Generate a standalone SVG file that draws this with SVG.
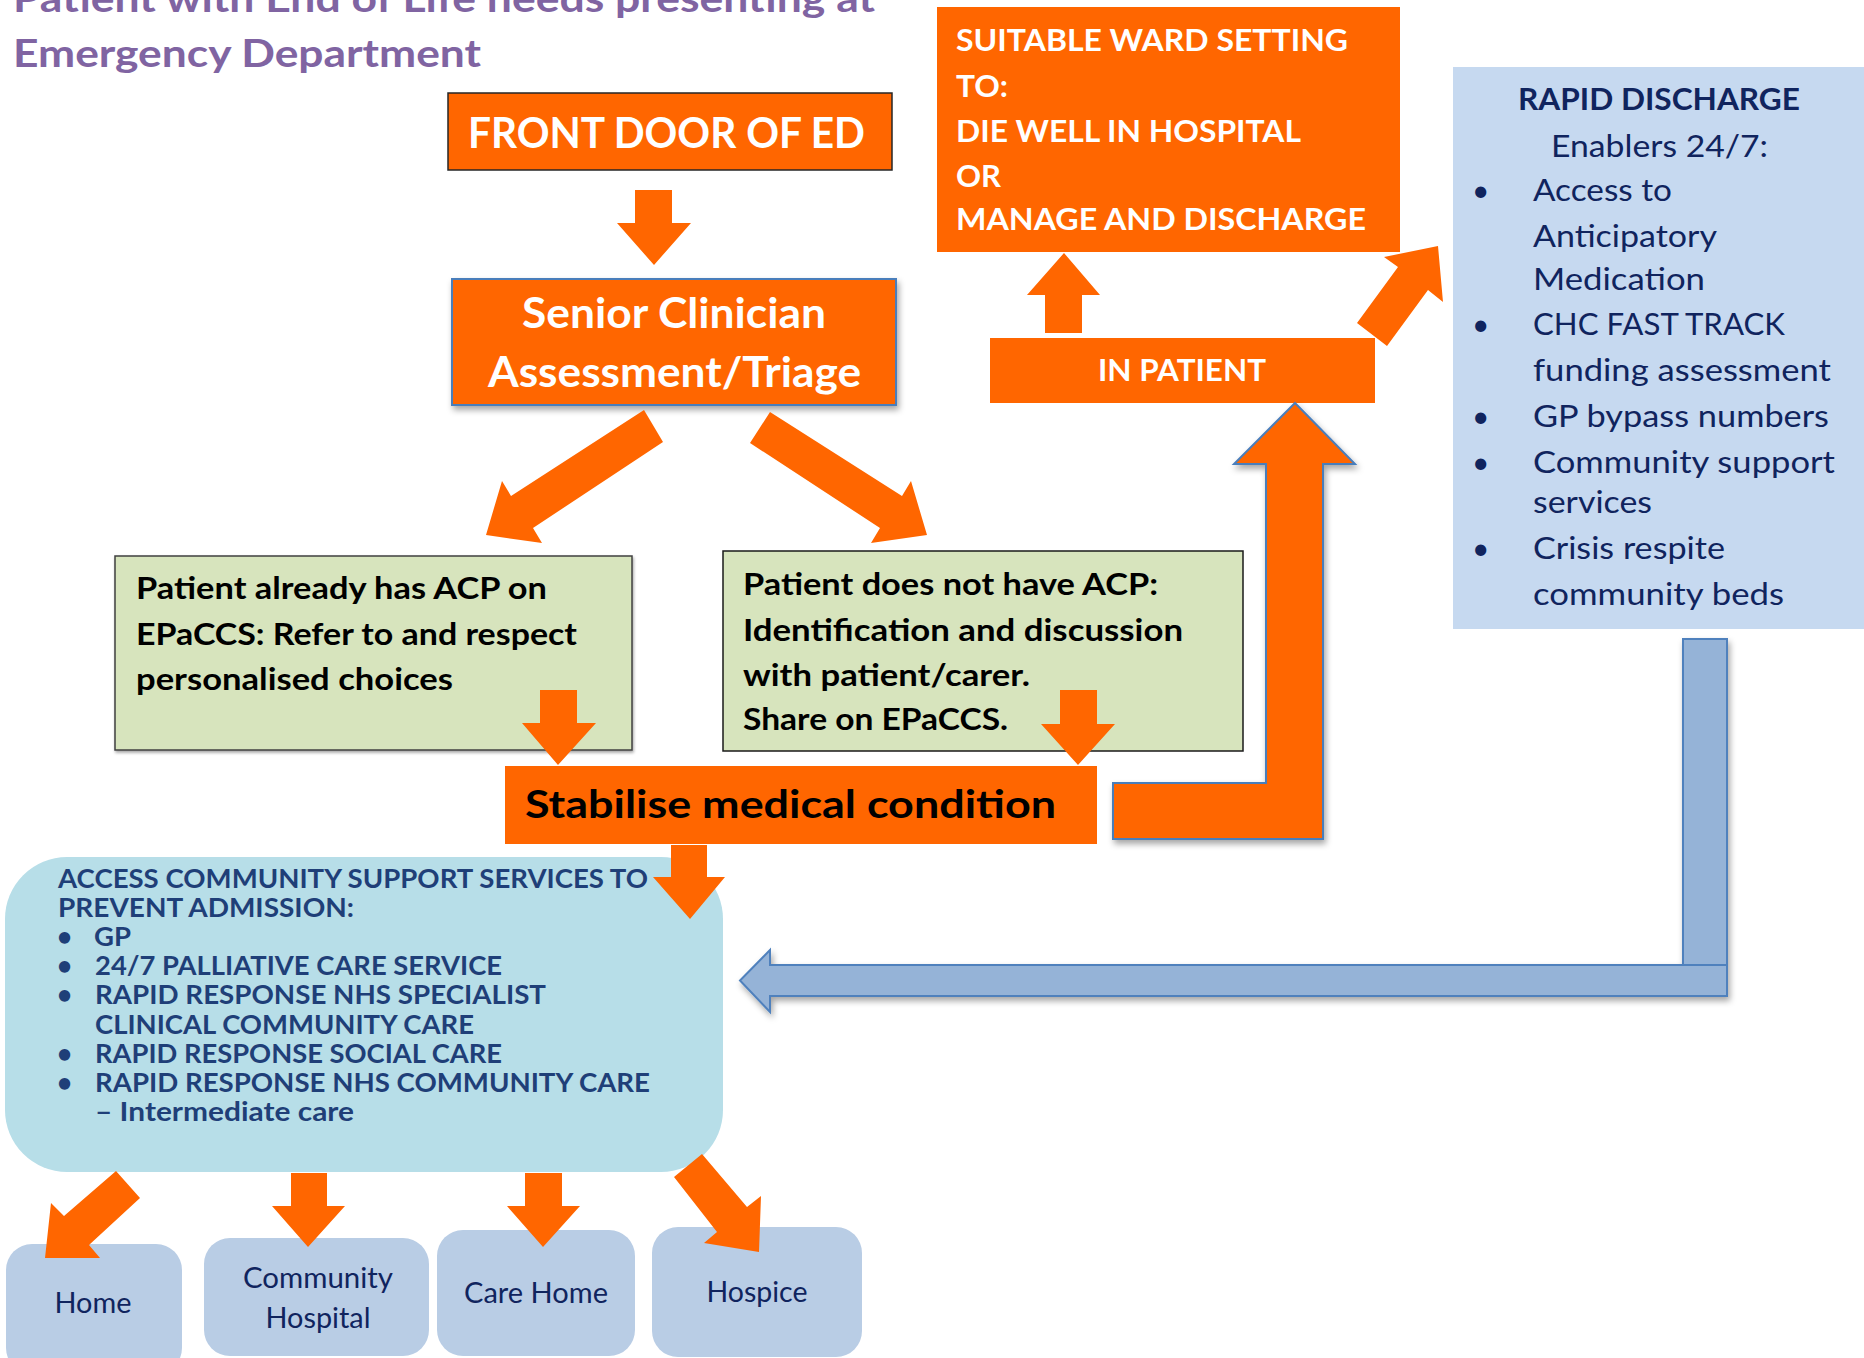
<svg xmlns="http://www.w3.org/2000/svg" width="1864" height="1358" viewBox="0 0 1864 1358">
  <defs>
    <filter id="shadow" x="-10%" y="-10%" width="130%" height="140%">
      <feDropShadow dx="2" dy="4" stdDeviation="3" flood-color="#000" flood-opacity="0.35"/>
    </filter>
    <filter id="softshadow" x="-5%" y="-5%" width="115%" height="120%">
      <feDropShadow dx="1" dy="2" stdDeviation="1.5" flood-color="#000" flood-opacity="0.35"/>
    </filter>
    <style>
      text { font-family: Lato, "Open Sans", "Liberation Sans", sans-serif; }
      .orange { fill: #FF6600; }
      .wb { fill: #FFFFFF; font-weight: bold; }
      .kb { fill: #000000; font-weight: bold; }
      .title { fill: #8064A2; font-weight: bold; font-size: 38px; }
      .green { fill: #D7E4BD; }
      .navy { fill: #10245E; }
      .comm { fill: #1F3F78; font-weight: bold; font-size: 26px; }
      .dest { fill: #B9CDE5; }
      .destt { fill: #10245E; font-size: 28px; text-anchor: middle; }
      .rd { fill: #10245E; font-size: 30px; }
      .blueArrow { fill: #95B3D7; stroke: #4F81BD; stroke-width: 2; }
    </style>
  </defs>

  <rect width="1864" height="1358" fill="#FFFFFF"/>

  <!-- heading -->
  <g id="title">
    <text class="title" x="13" y="12" textLength="862" lengthAdjust="spacingAndGlyphs">Patient with End of Life needs presenting at</text>
    <text class="title" x="13" y="67" textLength="468" lengthAdjust="spacingAndGlyphs">Emergency Department</text>
  </g>

  <g id="front-door">
    <rect x="448" y="93" width="444" height="77" class="orange" stroke="#262626" stroke-width="1.5"/>
    <text class="wb" x="468" y="148" font-size="42" textLength="397" lengthAdjust="spacingAndGlyphs">FRONT DOOR OF ED</text>
  </g>

  <g id="senior-clinician">
    <rect x="452" y="279" width="444" height="126" class="orange" stroke="#4A7EBB" stroke-width="2" filter="url(#shadow)"/>
    <text class="wb" x="522" y="328" font-size="42" textLength="304" lengthAdjust="spacingAndGlyphs">Senior Clinician</text>
    <text class="wb" x="488" y="387" font-size="42" textLength="373" lengthAdjust="spacingAndGlyphs">Assessment/Triage</text>
  </g>

  <g id="ward-setting">
    <rect x="937" y="7" width="463" height="245" class="orange"/>
    <text class="wb" x="956" y="51" font-size="31" textLength="392" lengthAdjust="spacingAndGlyphs">SUITABLE WARD SETTING</text>
    <text class="wb" x="956" y="97" font-size="31" textLength="52" lengthAdjust="spacingAndGlyphs">TO:</text>
    <text class="wb" x="956" y="142" font-size="31" textLength="345" lengthAdjust="spacingAndGlyphs">DIE WELL IN HOSPITAL</text>
    <text class="wb" x="956" y="187" font-size="31" textLength="45" lengthAdjust="spacingAndGlyphs">OR</text>
    <text class="wb" x="956" y="230" font-size="31" textLength="410" lengthAdjust="spacingAndGlyphs">MANAGE AND DISCHARGE</text>
  </g>

  <g id="in-patient">
    <rect x="990" y="338" width="385" height="65" class="orange"/>
    <text class="wb" x="1098" y="381" font-size="30" textLength="168" lengthAdjust="spacingAndGlyphs">IN PATIENT</text>
  </g>

  <g id="rapid-discharge">
    <rect x="1453" y="67" width="411" height="562" fill="#C6D9F0"/>
    <text class="navy" x="1518" y="110" font-size="31" font-weight="bold" textLength="282" lengthAdjust="spacingAndGlyphs">RAPID DISCHARGE</text>
    <text class="rd" x="1551" y="157" textLength="217" lengthAdjust="spacingAndGlyphs">Enablers 24/7:</text>
    <g class="rd">
      <text x="1472" y="201">•</text>
      <text x="1472" y="335">•</text>
      <text x="1472" y="427">•</text>
      <text x="1472" y="473">•</text>
      <text x="1472" y="559">•</text>
    </g>
    <text class="rd" x="1533" y="201" textLength="139" lengthAdjust="spacingAndGlyphs">Access to</text>
    <text class="rd" x="1533" y="247" textLength="184" lengthAdjust="spacingAndGlyphs">Anticipatory</text>
    <text class="rd" x="1533" y="290" textLength="172" lengthAdjust="spacingAndGlyphs">Medication</text>
    <text class="rd" x="1533" y="335" textLength="252" lengthAdjust="spacingAndGlyphs">CHC FAST TRACK</text>
    <text class="rd" x="1533" y="381" textLength="298" lengthAdjust="spacingAndGlyphs">funding assessment</text>
    <text class="rd" x="1533" y="427" textLength="296" lengthAdjust="spacingAndGlyphs">GP bypass numbers</text>
    <text class="rd" x="1533" y="473" textLength="302" lengthAdjust="spacingAndGlyphs">Community support</text>
    <text class="rd" x="1533" y="513" textLength="119" lengthAdjust="spacingAndGlyphs">services</text>
    <text class="rd" x="1533" y="559" textLength="192" lengthAdjust="spacingAndGlyphs">Crisis respite</text>
    <text class="rd" x="1533" y="605" textLength="251" lengthAdjust="spacingAndGlyphs">community beds</text>
  </g>

  <g id="has-acp">
    <rect x="115" y="556" width="517" height="194" class="green" stroke="#404040" stroke-width="1.5" filter="url(#softshadow)"/>
    <text class="kb" x="136" y="599" font-size="31" textLength="411" lengthAdjust="spacingAndGlyphs">Patient already has ACP on</text>
    <text class="kb" x="136" y="645" font-size="31" textLength="441" lengthAdjust="spacingAndGlyphs">EPaCCS: Refer to and respect</text>
    <text class="kb" x="136" y="690" font-size="31" textLength="317" lengthAdjust="spacingAndGlyphs">personalised choices</text>
  </g>

  <g id="no-acp">
    <rect x="723" y="551" width="520" height="200" class="green" stroke="#1A1A1A" stroke-width="1.5"/>
    <text class="kb" x="743" y="595" font-size="31" textLength="415" lengthAdjust="spacingAndGlyphs">Patient does not have ACP:</text>
    <text class="kb" x="743" y="641" font-size="31" textLength="440" lengthAdjust="spacingAndGlyphs">Identification and discussion</text>
    <text class="kb" x="743" y="686" font-size="31" textLength="287" lengthAdjust="spacingAndGlyphs">with patient/carer.</text>
    <text class="kb" x="743" y="730" font-size="31" textLength="265" lengthAdjust="spacingAndGlyphs">Share on EPaCCS.</text>
  </g>

  <g id="stabilise">
    <rect x="505" y="766" width="592" height="78" class="orange"/>
    <text class="kb" x="525" y="818" font-size="39" textLength="531" lengthAdjust="spacingAndGlyphs">Stabilise medical condition</text>
  </g>

  <g id="community-support">
    <rect x="5" y="857" width="718" height="315" rx="62" ry="62" fill="#B7DEE8"/>
    <text class="comm" x="58" y="888" textLength="590" lengthAdjust="spacingAndGlyphs">ACCESS COMMUNITY SUPPORT SERVICES TO</text>
    <text class="comm" x="58" y="917" textLength="296" lengthAdjust="spacingAndGlyphs">PREVENT ADMISSION:</text>
    <g class="comm">
      <text x="57" y="946">•</text>
      <text x="57" y="975">•</text>
      <text x="57" y="1004">•</text>
      <text x="57" y="1063">•</text>
      <text x="57" y="1092">•</text>
    </g>
    <text class="comm" x="94" y="946" textLength="37" lengthAdjust="spacingAndGlyphs">GP</text>
    <text class="comm" x="95" y="975" textLength="407" lengthAdjust="spacingAndGlyphs">24/7 PALLIATIVE CARE SERVICE</text>
    <text class="comm" x="95" y="1004" textLength="451" lengthAdjust="spacingAndGlyphs">RAPID RESPONSE NHS  SPECIALIST</text>
    <text class="comm" x="95" y="1034" textLength="379" lengthAdjust="spacingAndGlyphs">CLINICAL COMMUNITY CARE</text>
    <text class="comm" x="95" y="1063" textLength="407" lengthAdjust="spacingAndGlyphs">RAPID RESPONSE SOCIAL CARE</text>
    <text class="comm" x="95" y="1092" textLength="555" lengthAdjust="spacingAndGlyphs">RAPID RESPONSE NHS COMMUNITY CARE</text>
    <text class="comm" x="95" y="1121" textLength="259" lengthAdjust="spacingAndGlyphs">– Intermediate care</text>
  </g>

  <g id="home">
    <rect x="6" y="1244" width="176" height="130" rx="26" class="dest"/>
    <text class="destt" x="93" y="1313" textLength="77" lengthAdjust="spacingAndGlyphs">Home</text>
  </g>
  <g id="community-hospital">
    <rect x="204" y="1238" width="225" height="118" rx="26" class="dest"/>
    <text class="destt" x="318" y="1288" textLength="150" lengthAdjust="spacingAndGlyphs">Community</text>
    <text class="destt" x="318" y="1328" textLength="105" lengthAdjust="spacingAndGlyphs">Hospital</text>
  </g>
  <g id="care-home">
    <rect x="437" y="1230" width="198" height="126" rx="26" class="dest"/>
    <text class="destt" x="536" y="1303" textLength="144" lengthAdjust="spacingAndGlyphs">Care Home</text>
  </g>
  <g id="hospice">
    <rect x="652" y="1227" width="210" height="130" rx="26" class="dest"/>
    <text class="destt" x="757" y="1302" textLength="101" lengthAdjust="spacingAndGlyphs">Hospice</text>
  </g>

  <!-- block arrows -->
  <g id="connectors">
    <!-- front door to senior clinician -->
    <polygon class="orange" points="635,190 672,190 672,223 691,223 654,265 617,223 635,223"/>
    <!-- senior clinician to the two ACP boxes -->
    <polygon class="orange" points="644,410 663,442 533,528 542,543 486,535 502,481 511,496"/>
    <polygon class="orange" points="770,412 750,443 880,528 871,543 927,535 911,481 902,496"/>
    <!-- ACP boxes to stabilise -->
    <polygon class="orange" points="540,690 577,690 577,723 596,723 558,765 522,723 540,723"/>
    <polygon class="orange" points="1060,690 1097,690 1097,724 1115,724 1078,765 1041,724 1060,724"/>
    <!-- stabilise up to in patient -->
    <polygon class="orange" stroke="#4A7EBB" stroke-width="2" filter="url(#shadow)" points="1113,783 1266,783 1266,464 1234,464 1295,403 1355,464 1323,464 1323,839 1113,839"/>
    <!-- in patient to ward setting -->
    <polygon class="orange" points="1045,333 1082,333 1082,295 1100,295 1064,253 1027,295 1045,295"/>
    <!-- in patient to rapid discharge -->
    <polygon class="orange" points="1357,323 1398,267 1384,257 1438,246 1443,302 1428,290 1387,346"/>
    <!-- rapid discharge back to community support -->
    <g filter="url(#shadow)">
      <rect class="blueArrow" x="1683" y="639" width="44" height="340"/>
      <polygon class="blueArrow" points="1727,965 770,965 770,950 740,980.5 770,1012 770,996 1727,996"/>
    </g>
    <!-- stabilise to community support -->
    <polygon class="orange" points="671,845 707,845 707,877 725,877 690,919 653,877 671,877"/>
    <!-- community support to destinations -->
    <polygon class="orange" points="116,1171 140,1198 89,1245 100,1258 45,1258 51,1203 64,1216"/>
    <polygon class="orange" points="291,1173 327,1173 327,1206 345,1206 308,1247 272,1206 291,1206"/>
    <polygon class="orange" points="525,1173 562,1173 562,1206 580,1206 543,1247 507,1206 525,1206"/>
    <polygon class="orange" points="674,1177 702,1154 747,1207 761,1196 759,1252 704,1243 717,1232"/>
  </g>
</svg>
